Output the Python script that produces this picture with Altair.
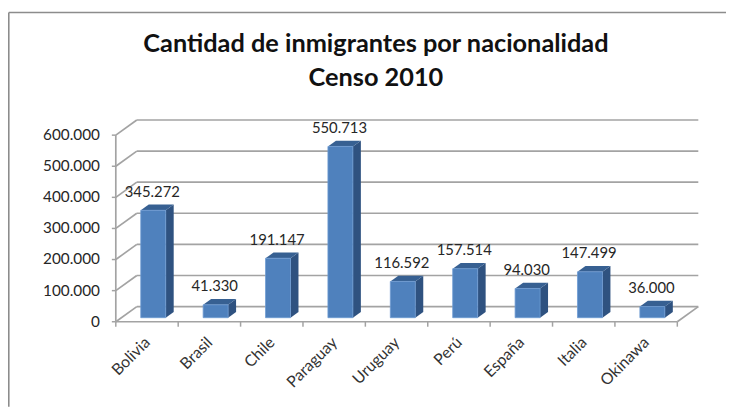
import json
import altair as alt
import pandas as pd

CATEGORIES = ["Bolivia", "Brasil", "Chile", "Paraguay", "Uruguay", "Perú", "España", "Italia", "Okinawa"]
VALUES = [345272, 41330, 191147, 550713, 116592, 157514, 94030, 147499, 36000]
LABELS = ["345.272", "41.330", "191.147", "550.713", "116.592", "157.514", "94.030", "147.499", "36.000"]
TICKS = [0, 100000, 200000, 300000, 400000, 500000, 600000]
TICK_LABELS = ["0", "100.000", "200.000", "300.000", "400.000", "500.000", "600.000"]
TITLE = ["Cantidad de inmigrantes por nacionalidad", "Censo 2010"]

# Faux-3D geometry, in data units
WALL_DX, WALL_DY = 0.3365, 48750
BAR_DX, BAR_DY = 0.128, 18500
BAR_BASE = 13000
BAR_LEFT, BAR_RIGHT = 0.40, 0.80
N = len(CATEGORIES)

GRID = "#a3a3a3"
FONT = "Lato"

xs = alt.Scale(domain=[0, N + WALL_DX], nice=False, zero=False)
ys = alt.Scale(domain=[0, 600000 + WALL_DY], nice=False, zero=False)


def X(**kw):
    return alt.X("x:Q", scale=xs, title=None, **kw)


def Y(**kw):
    return alt.Y("y:Q", scale=ys, title=None, axis=None, **kw)


segments = []
for t in TICKS:
    segments.append(dict(x=0, x2=WALL_DX, y=t, y2=t + WALL_DY))
    segments.append(dict(x=WALL_DX, x2=N + WALL_DX, y=t + WALL_DY, y2=t + WALL_DY))
segments.append(dict(x=0, x2=0, y=0, y2=TICKS[-1]))
segments.append(dict(x=0, x2=N, y=0, y2=0))
segments.append(dict(x=N, x2=N + WALL_DX, y=0, y2=WALL_DY))
seg_df = pd.DataFrame(segments)

walls = alt.Chart(seg_df).mark_rule(color=GRID, strokeWidth=1.7).encode(
    x=X(), x2="x2:Q", y=Y(), y2="y2:Q",
)

xtick_df = pd.DataFrame({"x": list(range(N + 1)), "y": [0] * (N + 1)})
xticks = alt.Chart(xtick_df).mark_rule(color=GRID, strokeWidth=1.5, y2Offset=5).encode(
    x=X(), y=Y(), y2="y:Q",
)

ytick_df = pd.DataFrame({"x": [0] * len(TICKS), "y": TICKS, "label": TICK_LABELS})
yticks = alt.Chart(ytick_df).mark_rule(color=GRID, strokeWidth=1.5, x2Offset=-4).encode(
    x=X(), x2="x:Q", y=Y(),
)
ylabels = alt.Chart(ytick_df).mark_text(
    font=FONT, fontSize=15.5, color="#262626", align="right", baseline="middle", dx=-16
).encode(x=X(), y=Y(), text="label:N")

front_df = pd.DataFrame({
    "cat": CATEGORIES,
    "x": [i + BAR_LEFT for i in range(N)],
    "x2": [i + BAR_RIGHT for i in range(N)],
    "y": [BAR_BASE + v for v in VALUES],
    "y2": [BAR_BASE] * N,
})
side_rows, top_rows = [], []
for i, (c, v) in enumerate(zip(CATEGORIES, VALUES)):
    r = i + BAR_RIGHT
    l = i + BAR_LEFT
    tp = BAR_BASE + v
    side_rows += [dict(cat=c, x=r, y=tp, y2=BAR_BASE),
                  dict(cat=c, x=r + BAR_DX, y=tp + BAR_DY, y2=BAR_BASE + BAR_DY)]
    top_rows += [dict(cat=c, x=l, x2=r, y=tp),
                 dict(cat=c, x=l + BAR_DX, x2=r + BAR_DX, y=tp + BAR_DY)]

side = alt.Chart(pd.DataFrame(side_rows)).mark_area(orient="vertical", color="#2f5280", opacity=1).encode(
    x=X(), y=Y(stack=None), y2="y2:Q", detail="cat:N",
)
top = alt.Chart(pd.DataFrame(top_rows)).mark_area(orient="horizontal", color="#376092", opacity=1).encode(
    x=X(stack=None), x2="x2:Q", y=Y(), detail="cat:N",
)
front = alt.Chart(front_df).mark_rect(color="#4f81bd", stroke="#6d9bd3", strokeWidth=0.8).encode(
    x=X(), x2="x2:Q", y=Y(), y2="y2:Q",
)

label_df = pd.DataFrame({
    "x": [i + 0.585 for i in range(N)],
    "y": [BAR_BASE + v for v in VALUES],
    "label": LABELS,
})
labels = alt.Chart(label_df).mark_text(
    font=FONT, fontSize=15, color="#262626", baseline="middle", align="center", dy=-18.7
).encode(
    x=X(), y=Y(), text="label:N",
)

# Category axis
axis_df = pd.DataFrame({"x": [i + 0.5 for i in range(N)], "y": [0] * N})
names = json.dumps(CATEGORIES, ensure_ascii=False)
axes = alt.Chart(axis_df).mark_point(opacity=0).encode(
    x=X(axis=alt.Axis(
        values=[i + 0.5 for i in range(N)],
        labelExpr=f"{names}[floor(datum.value)]",
        labelAngle=-45, labelAlign="right", labelBaseline="middle",
        labelFont=FONT, labelFontSize=16, labelColor="#333333",
        ticks=False, domain=False, grid=False, labelPadding=18,
        labelOverlap=False, labelBound=False, labelFlush=False,
    )),
    y=Y(),
)

one = pd.DataFrame({"a": [0]})
frame_left = alt.Chart(one).mark_rule(color="#8c8c8c", strokeWidth=1.6).encode(
    x=alt.value(-108.2), y=alt.value(-108.7), y2=alt.value(290))
frame_top = alt.Chart(one).mark_rule(color="#8c8c8c", strokeWidth=1.6).encode(
    x=alt.value(-108.2), x2=alt.value(617), y=alt.value(-108.7))


def title_line(text, py):
    return alt.Chart(pd.DataFrame({"t": [text]})).mark_text(
        font=FONT, fontSize=25.6, fontWeight="bold", color="#111111", align="center", baseline="middle"
    ).encode(x=alt.value(263), y=alt.value(py), text="t:N")


chart = alt.layer(
    axes, frame_left, frame_top, title_line(TITLE[0], -77.2), title_line(TITLE[1], -42.7),
    walls, xticks, yticks, ylabels, side, top, front, labels,
).properties(
    width=589,
    height=204,
    autosize=alt.AutoSizeParams(type="none"),
    padding={"left": 109, "top": 111, "right": 28, "bottom": 86},
).configure_view(stroke=None)

chart.save("out.html", embed_options={"renderer": "svg", "actions": False})
